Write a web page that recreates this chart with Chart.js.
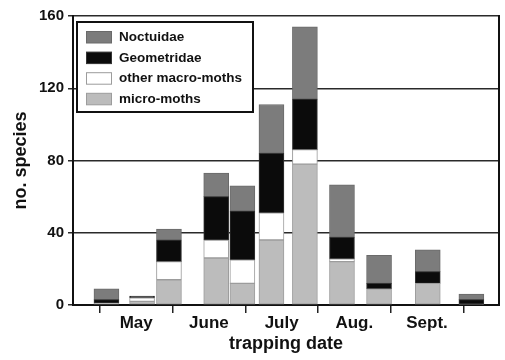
<!DOCTYPE html>
<html>
<head>
<meta charset="utf-8">
<script src="https://cdn.jsdelivr.net/npm/chart.js@4.4.1/dist/chart.umd.min.js"></script>
<style>
  html, body { margin: 0; padding: 0; background: #ffffff; }
  #wrap { width: 505px; height: 360px; }
</style>
</head>
<body>
<div id="wrap"><canvas id="c" width="505" height="360"></canvas></div>
<script>
// ---- data ----
// trapping dates, as month position (1 = 1 May, 2 = 1 June, ... 6 = 1 Oct)
const trapMonth = [1.09, 1.58, 1.95, 2.60, 2.96, 3.36, 3.82, 4.33, 4.84, 5.51, 6.11];
const microMoths = [1, 2, 14, 26, 12, 36, 78, 24, 9, 12, 0.5];
const otherMacro = [0, 2, 10, 10, 13, 15, 8, 1.5, 0, 0, 0];
const geometridae = [2, 1, 12, 24, 27, 33, 28, 12, 3, 6.5, 2.5];
const noctuidae = [6, 0, 6, 13, 14, 27, 40, 29, 15.5, 12, 3];
const monthLabels = ['May', 'June', 'July', 'Aug.', 'Sept.'];
const monthBounds = [1, 2, 3, 4, 5, 6];
const yTicks = [0, 40, 80, 120, 160];

const FONT = '"Liberation Sans", Arial, Helvetica, sans-serif';
const pts = arr => arr.map((v, i) => ({ x: trapMonth[i], y: v }));

const series = [
  { label: 'micro-moths', data: microMoths, bg: '#bcbcbc', bd: '#9c9c9c' },
  { label: 'other macro-moths', data: otherMacro, bg: '#ffffff', bd: '#9c9c9c' },
  { label: 'Geometridae', data: geometridae, bg: '#0b0b0b', bd: '#333333' },
  { label: 'Noctuidae', data: noctuidae, bg: '#7c7c7c', bd: '#6a6a6a' }
];

const boxLegend = {
  id: 'boxLegend',
  afterDraw(chart) {
    const ctx = chart.ctx;
    const ca = chart.chartArea;
    const x0 = ca.left + 4, y0 = ca.top + 6, w = 176, h = 90;
    ctx.save();
    ctx.fillStyle = '#ffffff';
    ctx.fillRect(x0, y0, w, h);
    ctx.lineWidth = 2;
    ctx.strokeStyle = '#111111';
    ctx.strokeRect(x0, y0, w, h);
    const ds = chart.data.datasets.slice().reverse();
    ctx.font = 'bold 13.5px ' + FONT;
    ctx.textBaseline = 'middle';
    ds.forEach((d, i) => {
      const cy = y0 + 15 + i * 20.6;
      ctx.fillStyle = d.backgroundColor;
      ctx.fillRect(x0 + 9.5, cy - 5.5, 25, 11.5);
      ctx.lineWidth = 1;
      ctx.strokeStyle = d.borderColor;
      ctx.strokeRect(x0 + 9.5, cy - 5.5, 25, 11.5);
      ctx.fillStyle = '#111111';
      ctx.fillText(d.label, x0 + 42, cy + 0.5);
    });
    ctx.restore();
  }
};

new Chart(document.getElementById('c'), {
  type: 'bar',
  data: {
    datasets: series.map(s => ({
      label: s.label,
      data: pts(s.data),
      backgroundColor: s.bg,
      borderColor: s.bd,
      borderWidth: 1,
      borderSkipped: false,
      barThickness: 25
    }))
  },
  options: {
    responsive: false,
    animation: false,
    devicePixelRatio: 1,
    layout: { padding: { top: 16, right: 0, left: 0, bottom: 0 } },
    plugins: { legend: { display: false }, tooltip: { enabled: false } },
    scales: {
      x: {
        type: 'linear',
        stacked: true,
        offset: false,
        min: 0.63,
        max: 6.49,
        afterBuildTicks: s => {
          const t = [];
          monthBounds.forEach(v => t.push({ value: v }));
          monthLabels.forEach((m, i) => t.push({ value: monthBounds[i] + 0.5 }));
          t.sort((a, b) => a.value - b.value);
          s.ticks = t;
        },
        afterFit: s => { s.height = 55; },
        grid: {
          offset: false,
          drawOnChartArea: false,
          drawTicks: true,
          tickLength: 8,
          lineWidth: 1.5,
          color: c => (c.tick && Number.isInteger(c.tick.value)) ? '#222222' : 'rgba(0,0,0,0)'
        },
        border: { display: true, color: '#111111', width: 2 },
        ticks: {
          autoSkip: false,
          maxRotation: 0,
          padding: 0,
          color: '#111111',
          font: { family: FONT, size: 17, weight: 'bold' },
          callback: v => {
            const i = monthBounds.indexOf(v - 0.5);
            return i >= 0 && i < monthLabels.length ? monthLabels[i] : '';
          }
        },
        title: {
          display: true,
          text: 'trapping date',
          color: '#111111',
          font: { family: FONT, size: 18, weight: 'bold' },
          padding: { top: 2, bottom: 5 }
        }
      },
      y: {
        stacked: true,
        min: 0,
        max: 160,
        afterBuildTicks: s => { s.ticks = yTicks.map(v => ({ value: v })); },
        afterFit: s => { s.width = 73; },
        grid: { color: '#2a2a2a', lineWidth: 1.5, tickLength: 5 },
        border: { display: true, color: '#111111', width: 2 },
        ticks: {
          padding: 4,
          color: '#111111',
          font: { family: FONT, size: 15, weight: 'bold' }
        },
        title: {
          display: true,
          text: 'no. species',
          color: '#111111',
          font: { family: FONT, size: 18, weight: 'bold' },
          padding: { top: 10, bottom: 0 }
        }
      },
      yR: {
        position: 'right',
        min: 0,
        max: 160,
        afterFit: s => { s.width = 6; },
        grid: { display: false, drawTicks: false },
        ticks: { display: false },
        border: { display: true, color: '#111111', width: 2 }
      }
    }
  },
  plugins: [boxLegend]
});
</script>
</body>
</html>
